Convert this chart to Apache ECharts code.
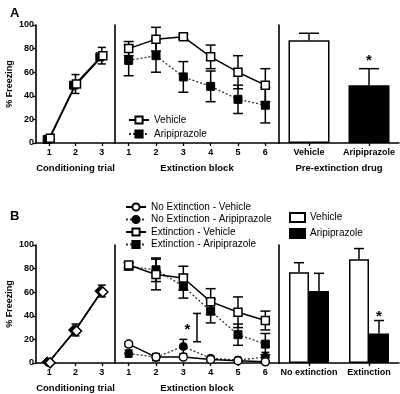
<!DOCTYPE html>
<html>
<head>
<meta charset="utf-8">
<script src="https://cdn.jsdelivr.net/npm/echarts@6/dist/echarts.min.js"></script>
<style>
html, body { margin: 0; padding: 0; background: #fff; }
#chart { width: 400px; height: 394px; }
</style>
</head>
<body>
<div id="chart"></div>
<script>
// categories
var trials = ['1', '2', '3'];
var blocks = ['1', '2', '3', '4', '5', '6'];
var drugs = ['Vehicle', 'Aripiprazole'];
var groupsB = ['No extinction', 'Extinction'];

// panel A - conditioning / extinction / test
var condVehA = [4, 50, 74];
var condVehASem = [2, 8, 7];
var condAriA = [3, 49, 73];
var extVehA = [80, 88, 90, 73, 60, 49];
var extVehASem = [6, 10, 2, 10, 14, 14];
var extAriA = [70, 74, 56, 48, 37, 32];
var extAriASem = [13, 14, 13, 13, 12, 15];
var testA = [87, 49];
var testASem = [6, 14];
var starA = [70];

// panel B
var condB = [1, 28, 61];
var condBSem = [1.5, 5, 5];
var noExtVehB = [16, 5, 5, 3, 2, 1];
var noExtVehBSem = [2, 1, 1, 1, 1, 1];
var noExtAriB = [8, 5, 14, 4, 2.5, 5];
var noExtAriBSem = [3, 3, 6, 1, 1, 4];
var extVehB = [83, 75, 72, 52, 43, 36];
var extVehBSem = [2, 13, 10, 11, 13, 8];
var extAriB = [82, 79, 65, 44, 24, 16];
var extAriBSem = [3, 10, 10, 10, 9, 9];
var testVehB = [77, 88];
var testVehBSem = [8, 9];
var testAriB = [61, 25];
var testAriBSem = [15, 11];
var sigBlockB = [42, 18];   // bracket between block 3 and 4
var starB = [28];
var starTestB = [39];

var yTicks = [0, 20, 40, 60, 80, 100];

var FONT = 'Liberation Sans';
var myChart = echarts.init(document.getElementById('chart'));

function withSem(vals, sem) {
    return vals.map(function (v, i) { return [i, v, sem[i]]; });
}

// error bars, 'both' for points, 'up' for bars
function errRender(mode, shift, cap) {
    return function (params, api) {
        var i = api.value(0), v = api.value(1), e = api.value(2);
        var lo = mode === 'up' ? v : Math.max(0, v - e);
        var top = api.coord([i, v + e]);
        var bot = api.coord([i, lo]);
        var x = top[0] + shift;
        var st = { stroke: '#000', lineWidth: 1.5 };
        var kids = [
            { type: 'line', shape: { x1: x, y1: top[1], x2: x, y2: bot[1] }, style: st },
            { type: 'line', shape: { x1: x - cap, y1: top[1], x2: x + cap, y2: top[1] }, style: st }
        ];
        if (mode !== 'up') {
            kids.push({ type: 'line', shape: { x1: x - cap, y1: bot[1], x2: x + cap, y2: bot[1] }, style: st });
        }
        return { type: 'group', children: kids };
    };
}

function errSeries(grid, data, mode, shift, cap) {
    return {
        type: 'custom', xAxisIndex: grid, yAxisIndex: grid, z: 1,
        renderItem: errRender(mode, shift, cap), data: data, silent: true
    };
}

function starSeries(grid, cat, val, dx) {
    return {
        type: 'custom', xAxisIndex: grid, yAxisIndex: grid, z: 5, silent: true,
        renderItem: function (params, api) {
            var p = api.coord([api.value(0), api.value(1)]);
            return { type: 'text', x: p[0] + dx, y: p[1],
                style: { text: '*', font: 'bold 15px ' + FONT, fill: '#000', align: 'center', verticalAlign: 'middle' } };
        },
        data: [[cat, val]]
    };
}

var grids = [
    { left: 36, top: 25, width: 79, height: 118 },
    { left: 115, top: 25, width: 164, height: 118 },
    { left: 279, top: 25, width: 120, height: 118 },
    { left: 36, top: 245, width: 79, height: 118 },
    { left: 115, top: 245, width: 164, height: 118 },
    { left: 279, top: 245, width: 120, height: 118 }
];

var axisLine = { show: true, lineStyle: { color: '#000', width: 1.6 } };

function xAx(grid, data, name) {
    return {
        type: 'category', gridIndex: grid, data: data, boundaryGap: true,
        axisLine: axisLine,
        axisTick: { show: true, alignWithLabel: true, interval: 0, length: 3, lineStyle: { color: '#000', width: 1.3 } },
        axisLabel: { interval: 0, hideOverlap: false, color: '#000', fontFamily: FONT, fontWeight: 'bold', fontSize: 9, margin: 5 },
        name: name, nameLocation: 'middle', nameGap: 20,
        nameTextStyle: { color: '#000', fontFamily: FONT, fontWeight: 'bold', fontSize: 9.5 }
    };
}

function yAx(grid, first) {
    return {
        type: 'value', gridIndex: grid, min: 0, max: 100, interval: 20,
        axisLine: axisLine,
        axisTick: { show: first, length: 3, lineStyle: { color: '#000', width: 1.3 } },
        axisLabel: { show: first, color: '#000', fontFamily: FONT, fontWeight: 'bold', fontSize: 9, margin: 2,
            customValues: yTicks },
        splitLine: { show: false },
        name: first ? '% Freezing' : '', nameLocation: 'middle', nameGap: 22,
        nameTextStyle: { color: '#000', fontFamily: FONT, fontWeight: 'bold', fontSize: 9 }
    };
}

var solid = { color: '#000', width: 1.5, type: 'solid' };
var dotted = { color: '#333', width: 1.3, type: [2, 2] };
var openSq = { color: '#fff', borderColor: '#000', borderWidth: 1.5 };
var fillSq = { color: '#000', borderColor: '#000', borderWidth: 1 };

function lineSeries(name, grid, data, symbol, size, item, line) {
    return {
        name: name, type: 'line', xAxisIndex: grid, yAxisIndex: grid, z: 3,
        data: data, symbol: symbol, symbolSize: size, showAllSymbol: true,
        itemStyle: item, lineStyle: line, silent: true
    };
}

var series = [
    // A: conditioning
    errSeries(0, withSem(condVehA, condVehASem), 'both', 0, 4),
    Object.assign(lineSeries('condAriA', 0, condAriA, 'rect', 8, fillSq, solid), { symbolOffset: [-2, 0] }),
    Object.assign(lineSeries('condVehA', 0, condVehA, 'rect', 8, openSq, solid), { symbolOffset: [1, 0] }),
    // A: extinction
    errSeries(1, withSem(extAriA, extAriASem), 'both', 0, 5),
    errSeries(1, withSem(extVehA, extVehASem), 'both', 0, 5),
    lineSeries('Aripiprazole', 1, extAriA, 'rect', 8, fillSq, dotted),
    lineSeries('Vehicle', 1, extVehA, 'rect', 8, openSq, solid),
    // A: test bars
    errSeries(2, withSem(testA, testASem), 'up', 0, 10),
    {
        name: 'testA', type: 'bar', xAxisIndex: 2, yAxisIndex: 2, z: 2, barWidth: 41, silent: true,
        data: [
            { value: testA[0], itemStyle: { color: '#fff', borderColor: '#000', borderWidth: 1.5 } },
            { value: testA[1], itemStyle: { color: '#000', borderColor: '#000', borderWidth: 1.5 } }
        ]
    },
    starSeries(2, 1, starA[0], 0),

    // B: conditioning
    errSeries(3, withSem(condB, condBSem), 'both', 0, 4),
    Object.assign(lineSeries('condB1', 3, condB, 'diamond', 10, fillSq, solid), { symbolOffset: [-2, 0] }),
    Object.assign(lineSeries('condB2', 3, condB, 'diamond', 10, openSq, solid), { symbolOffset: [1, 1] }),
    // B: extinction
    errSeries(4, withSem(noExtAriB, noExtAriBSem), 'both', 0, 4),
    errSeries(4, withSem(noExtVehB, noExtVehBSem), 'both', 0, 4),
    errSeries(4, withSem(extAriB, extAriBSem), 'both', 0, 5),
    errSeries(4, withSem(extVehB, extVehBSem), 'both', 0, 5),
    lineSeries('No Extinction - Aripiprazole', 4, noExtAriB, 'circle', 8, fillSq, dotted),
    lineSeries('No Extinction - Vehicle', 4, noExtVehB, 'circle', 8, openSq, solid),
    lineSeries('Extinction - Aripiprazole', 4, extAriB, 'rect', 8, fillSq, dotted),
    lineSeries('Extinction - Vehicle', 4, extVehB, 'rect', 8, openSq, solid),
    {
        type: 'custom', xAxisIndex: 4, yAxisIndex: 4, z: 5, silent: true,
        renderItem: function (params, api) {
            var a = api.coord([2, api.value(0)]);
            var b = api.coord([3, api.value(1)]);
            var x = (a[0] + b[0]) / 2;
            var st = { stroke: '#000', lineWidth: 1.5 };
            return { type: 'group', children: [
                { type: 'line', shape: { x1: x, y1: a[1], x2: x, y2: b[1] }, style: st },
                { type: 'line', shape: { x1: x - 4, y1: a[1], x2: x + 4, y2: a[1] }, style: st },
                { type: 'line', shape: { x1: x - 4, y1: b[1], x2: x + 4, y2: b[1] }, style: st }
            ] };
        },
        data: [sigBlockB]
    },
    starSeries(4, 2, starB[0], 4),
    // B: test bars
    errSeries(5, withSem(testVehB, testVehBSem), 'up', -10, 5),
    errSeries(5, withSem(testAriB, testAriBSem), 'up', 10, 5),
    {
        name: 'B Vehicle', type: 'bar', xAxisIndex: 5, yAxisIndex: 5, z: 2, barWidth: 20, barGap: 0, silent: true,
        data: testVehB, itemStyle: { color: '#fff', borderColor: '#000', borderWidth: 1.5 }
    },
    {
        name: 'B Aripiprazole', type: 'bar', xAxisIndex: 5, yAxisIndex: 5, z: 2, barWidth: 20, barGap: 0, silent: true,
        data: testAriB, itemStyle: { color: '#000', borderColor: '#000', borderWidth: 1.5 }
    },
    starSeries(5, 1, starTestB[0], 10)
];

var legendText = { color: '#000', fontFamily: FONT, fontSize: 10 };

var option = {
    animation: false,
    backgroundColor: '#fff',
    textStyle: { fontFamily: FONT },
    title: [
        { text: 'A', left: 5, top: 2, textStyle: { fontFamily: FONT, fontWeight: 'bold', fontSize: 13, color: '#000' } },
        { text: 'B', left: 5, top: 205, textStyle: { fontFamily: FONT, fontWeight: 'bold', fontSize: 13, color: '#000' } }
    ],
    legend: [
        {
            data: ['Vehicle', 'Aripiprazole'], orient: 'vertical', left: 123, top: 110,
            itemWidth: 20, itemHeight: 9, itemGap: 4, textStyle: legendText, selectedMode: false
        },
        {
            data: ['No Extinction - Vehicle', 'No Extinction - Aripiprazole', 'Extinction - Vehicle', 'Extinction - Aripiprazole'],
            orient: 'vertical', left: 120, top: 197,
            itemWidth: 20, itemHeight: 9, itemGap: 2.5, textStyle: legendText, selectedMode: false
        },
        {
            data: ['B Vehicle', 'B Aripiprazole'], orient: 'vertical', left: 284, top: 207,
            icon: 'rect', itemWidth: 15, itemHeight: 9, itemGap: 5, textStyle: legendText, selectedMode: false,
            formatter: function (n) { return n.slice(2); }
        }
    ],
    grid: grids,
    xAxis: [
        xAx(0, trials, 'Conditioning trial'),
        xAx(1, blocks, 'Extinction block'),
        xAx(2, drugs, 'Pre-extinction drug'),
        xAx(3, trials, 'Conditioning trial'),
        xAx(4, blocks, 'Extinction block'),
        xAx(5, groupsB, '')
    ],
    yAxis: [yAx(0, true), yAx(1, false), yAx(2, false), yAx(3, true), yAx(4, false), yAx(5, false)],
    series: series
};

myChart.setOption(option);
</script>
</body>
</html>
